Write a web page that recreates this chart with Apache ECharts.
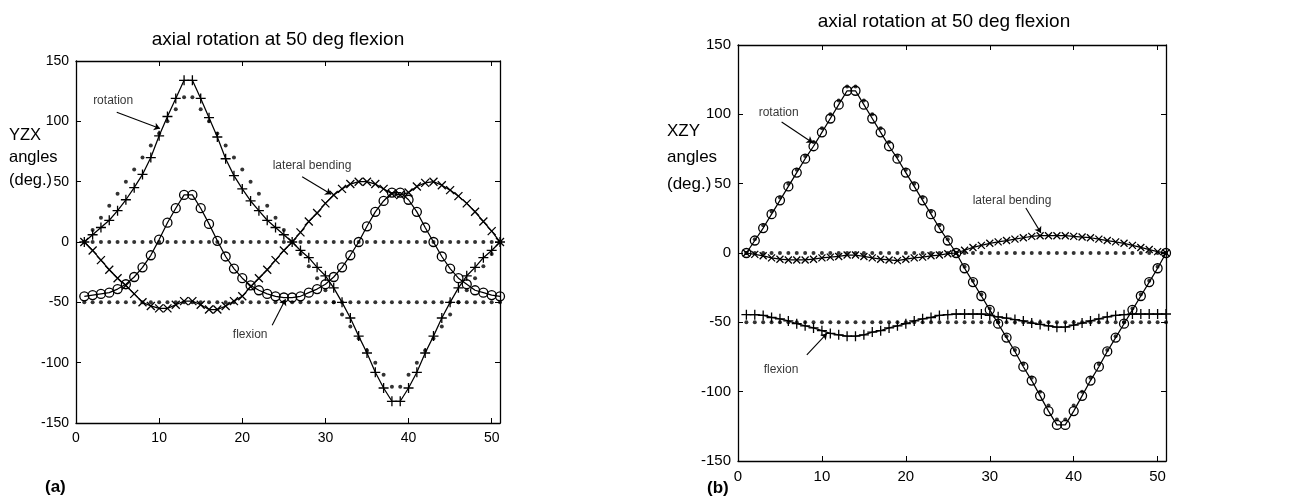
<!DOCTYPE html>
<html>
<head>
<meta charset="utf-8">
<title>axial rotation at 50 deg flexion</title>
<script src="https://cdn.jsdelivr.net/npm/echarts@6/dist/echarts.min.js"></script>
<style>
html, body { margin: 0; padding: 0; background: #fff; }
#chart { width: 1294px; height: 498px; }
</style>
</head>
<body>
<div id="chart"></div>
<script>
// frame number (x axis), same for both panels
const frames = [1, 2, 3, 4, 5, 6, 7, 8, 9, 10, 11, 12, 13, 14, 15, 16, 17, 18, 19, 20,
  21, 22, 23, 24, 25, 26, 27, 28, 29, 30, 31, 32, 33, 34, 35, 36, 37, 38, 39, 40,
  41, 42, 43, 44, 45, 46, 47, 48, 49, 50, 51]

// prescribed motion (dotted)
const rotationTarget = [0, 10, 20, 30, 40, 50, 60, 70, 80, 90, 100, 110, 120, 120, 110, 100, 90, 80, 70, 60,
  50, 40, 30, 20, 10, 0, -10, -20, -30, -40, -50, -60, -70, -80, -90, -100, -110, -120, -120, -110,
  -100, -90, -80, -70, -60, -50, -40, -30, -20, -10, 0]
const lateralTarget = [0, 0, 0, 0, 0, 0, 0, 0, 0, 0, 0, 0, 0, 0, 0, 0, 0, 0, 0, 0,
  0, 0, 0, 0, 0, 0, 0, 0, 0, 0, 0, 0, 0, 0, 0, 0, 0, 0, 0, 0,
  0, 0, 0, 0, 0, 0, 0, 0, 0, 0, 0]
const flexionTarget = [-50, -50, -50, -50, -50, -50, -50, -50, -50, -50, -50, -50, -50, -50, -50, -50, -50, -50, -50, -50,
  -50, -50, -50, -50, -50, -50, -50, -50, -50, -50, -50, -50, -50, -50, -50, -50, -50, -50, -50, -50,
  -50, -50, -50, -50, -50, -50, -50, -50, -50, -50, -50]

// (a) YZX angles
const yzxRotation = [0, 6, 12, 18, 26, 35, 45, 56, 70, 88, 104, 119, 134, 134, 119, 103, 87, 69, 55, 44,
  34, 26, 18, 12, 6, 0, -7, -13, -21, -28, -38, -50, -63, -78, -92, -108, -121, -132, -132, -121,
  -108, -92, -78, -63, -50, -38, -28, -21, -13, -7, 0]
const yzxLateral = [0, -7, -15, -23, -30, -36, -43, -50, -53, -55, -55, -52, -49, -49, -52, -56, -56, -53, -49, -45,
  -37, -30, -23, -15, -7, 0, 8, 17, 24, 32, 39, 44, 48, 50, 50, 48, 44, 40, 39, 41,
  46, 49, 50, 47, 43, 38, 32, 25, 17, 9, 0]
const yzxFlexion = [-45, -44, -43, -42, -39, -35, -29, -21, -11, 2, 16, 28, 39, 39, 28, 15, 1, -12, -22, -30,
  -36, -40, -43, -45, -46, -46, -45, -42, -39, -35, -29, -21, -11, 0, 13, 25, 34, 41, 41, 35,
  25, 12, 0, -12, -22, -30, -35, -40, -42, -44, -45]

// (b) XZY angles
const xzyRotation = [0, 9, 18, 28, 38, 48, 58, 68, 77, 87, 97, 107, 117, 117, 107, 97, 87, 77, 68, 58,
  48, 38, 28, 18, 9, 0, -11, -21, -31, -41, -51, -61, -71, -82, -92, -103, -114, -124, -124, -114,
  -103, -92, -82, -71, -61, -51, -41, -31, -21, -11, 0]
const xzyLateral = [0, -1, -2, -3.5, -4.5, -5, -5, -5, -4.5, -3.5, -3, -2.5, -1.5, -1.5, -2.5, -3.5, -4.5, -5, -5.5, -4.5,
  -3.5, -3, -2, -1.5, -0.5, 0, 2, 4, 5.5, 7, 8, 9, 10, 11, 12, 12.5, 12.5, 12.5, 12.5, 12,
  11.5, 11, 10, 9, 8, 7, 5.5, 4, 2.5, 1, 0]
const xzyFlexion = [-44.5, -44.5, -45, -46.5, -47.5, -49, -51, -52.5, -54, -56, -58, -59, -60, -60, -59, -57, -56, -54, -52.5, -51,
  -49, -47.5, -46.5, -45, -44.5, -44, -44, -44, -44, -45, -46, -47, -48, -49, -50.5, -51.5, -52.5, -53.5, -53.5, -52,
  -50.5, -49, -47.5, -46, -45, -44.5, -44, -44, -44, -44, -44]

const yTicks = [-150, -100, -50, 0, 50, 100, 150]
const xTicks = [0, 10, 20, 30, 40, 50]

// text labels with arrows, in data coords: [text, x, y], arrow [[from], [to]]
const leftNotes = [['rotation', 2.0, 117], ['lateral bending', 23.6, 63], ['flexion', 18.8, -77]]
const leftArrows = [[[4.9, 107.5], [10.1, 94]], [[27.2, 54], [30.7, 39.5]], [[23.6, -69], [25.2, -47.5]]]
const rightNotes = [['rotation', 2.4, 101.5], ['lateral bending', 27.9, 38], ['flexion', 3, -84.5]]
const rightArrows = [[[5.2, 94.5], [8.9, 79.5]], [[34.3, 32.5], [36.1, 14.5]], [[8.2, -73.5], [10.6, -58]]]

const FONT = 'Liberation Sans, Arial, sans-serif'
const PLUS = 'path://M0,5L10,5M5,0L5,10'
const CROSS = 'path://M0,0L10,10M10,0L0,10'

const pair = (ys) => frames.map((f, i) => [f, ys[i]])

const lineSeries = (axis, ys, symbol, size) => ({
  type: 'line',
  xAxisIndex: axis,
  yAxisIndex: axis,
  data: pair(ys),
  symbol: symbol,
  symbolSize: size,
  showAllSymbol: true,
  silent: true,
  z: 3,
  lineStyle: { color: '#000', width: 1.25 },
  itemStyle: {
    color: symbol === 'circle' ? 'rgba(0,0,0,0)' : '#000',
    borderColor: '#000',
    borderWidth: 1.3
  }
})

const dotSeries = (axis, ys) => ({
  type: 'scatter',
  xAxisIndex: axis,
  yAxisIndex: axis,
  data: pair(ys),
  symbol: 'circle',
  symbolSize: 4,
  silent: true,
  z: 4,
  itemStyle: { color: '#000' }
})

const noteSeries = (axis, notes, arrows) => ({
  type: 'scatter',
  xAxisIndex: axis,
  yAxisIndex: axis,
  symbolSize: 1,
  silent: true,
  z: 5,
  itemStyle: { color: 'rgba(0,0,0,0)' },
  data: notes.map((n) => ({ value: [n[1], n[2]], label: { formatter: n[0] } })),
  label: { show: true, position: 'right', distance: 0, fontSize: 12, fontFamily: FONT, color: '#000' },
  markLine: {
    silent: true,
    animation: false,
    symbol: ['none', 'arrow'],
    symbolSize: 6,
    label: { show: false },
    lineStyle: { color: '#000', width: 1.1, type: 'solid' },
    data: arrows.map((a) => [{ coord: a[0] }, { coord: a[1] }])
  }
})

const xAxisFor = (grid, pos, fontSize) => ({
  type: 'value',
  gridIndex: grid,
  position: pos,
  min: xTicks[0],
  max: 51,
  interval: 10,
  splitLine: { show: false },
  axisLine: { show: true, onZero: false, lineStyle: { color: '#000', width: 1.3 } },
  axisTick: { show: true, inside: true, length: 5, lineStyle: { color: '#000' } },
  axisLabel: {
    show: pos === 'bottom',
    color: '#000',
    fontSize: fontSize,
    fontFamily: FONT,
    showMaxLabel: false
  }
})

const yAxisFor = (grid, pos, fontSize) => ({
  type: 'value',
  gridIndex: grid,
  position: pos,
  min: yTicks[0],
  max: yTicks[yTicks.length - 1],
  interval: 50,
  splitLine: { show: false },
  axisLine: { show: true, onZero: false, lineStyle: { color: '#000', width: 1.3 } },
  axisTick: { show: true, inside: true, length: 5, lineStyle: { color: '#000' } },
  axisLabel: { show: pos === 'left', color: '#000', fontSize: fontSize, fontFamily: FONT, margin: 7 }
})

const text = (x, y, str, size, extra) => ({
  type: 'text',
  x: x,
  y: y,
  silent: true,
  style: Object.assign({ text: str, fontSize: size, fontFamily: FONT, fill: '#000' }, extra)
})

const myChart = echarts.init(document.getElementById('chart'))

const option = {
  animation: false,
  backgroundColor: '#fff',
  grid: [
    { left: 76, top: 61, width: 424, height: 362 },
    { left: 738, top: 45, width: 428, height: 416 }
  ],
  xAxis: [
    xAxisFor(0, 'bottom', 14),
    xAxisFor(0, 'top', 14),
    xAxisFor(1, 'bottom', 15),
    xAxisFor(1, 'top', 15)
  ],
  yAxis: [
    yAxisFor(0, 'left', 14),
    yAxisFor(0, 'right', 14),
    yAxisFor(1, 'left', 15),
    yAxisFor(1, 'right', 15)
  ],
  graphic: [
    text(278, 40, 'axial rotation at 50 deg flexion', 19, { align: 'center', verticalAlign: 'middle' }),
    text(944, 22, 'axial rotation at 50 deg flexion', 19, { align: 'center', verticalAlign: 'middle' }),
    text(9, 124, 'YZX\nangles\n(deg.)', 16.5, { lineHeight: 22.5, verticalAlign: 'top' }),
    text(667, 118, 'XZY\nangles\n(deg.)', 17, { lineHeight: 26.5, verticalAlign: 'top' }),
    text(45, 487, '(a)', 17, { fontWeight: 'bold', verticalAlign: 'middle' }),
    text(707, 488, '(b)', 17, { fontWeight: 'bold', verticalAlign: 'middle' })
  ],
  series: [
    // (a)
    dotSeries(0, rotationTarget),
    dotSeries(0, lateralTarget),
    dotSeries(0, flexionTarget),
    lineSeries(0, yzxRotation, PLUS, 10),
    lineSeries(0, yzxLateral, CROSS, 8),
    lineSeries(0, yzxFlexion, 'circle', 9),
    noteSeries(0, leftNotes, leftArrows),
    // (b)
    dotSeries(2, rotationTarget),
    dotSeries(2, lateralTarget),
    dotSeries(2, flexionTarget),
    lineSeries(2, xzyRotation, 'circle', 9),
    lineSeries(2, xzyLateral, CROSS, 7),
    lineSeries(2, xzyFlexion, PLUS, 10),
    noteSeries(2, rightNotes, rightArrows)
  ]
}

myChart.setOption(option)
window.addEventListener('resize', () => {
  myChart.resize()
})
</script>
</body>
</html>
